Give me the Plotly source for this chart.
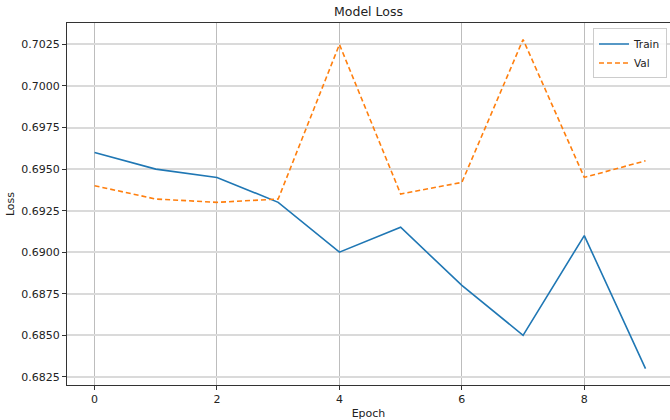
import plotly.graph_objects as go

epochs = [0, 1, 2, 3, 4, 5, 6, 7, 8, 9]
train_loss = [0.6960, 0.6950, 0.6945, 0.6930, 0.6900, 0.6915, 0.6880, 0.6850, 0.6910, 0.6830]
val_loss = [0.6940, 0.6932, 0.6930, 0.6932, 0.7025, 0.6935, 0.6942, 0.7028, 0.6945, 0.6955]

FONT = "DejaVu Sans"

fig = go.Figure()
fig.add_trace(go.Scatter(x=epochs, y=train_loss, mode="lines", name="Train",
                         line=dict(color="#1f77b4", width=1.6)))
fig.add_trace(go.Scatter(x=epochs, y=val_loss, mode="lines", name="Val",
                         line=dict(color="#ff7f0e", width=1.6, dash="5px,3px")))

fig.update_layout(
    width=670, height=420,
    margin=dict(l=67, r=0, t=23, b=35, autoexpand=False),
    paper_bgcolor="white", plot_bgcolor="white",
    font=dict(family=FONT, size=11, color="#222222"),
    title=dict(text="Model Loss", x=0.5, xref="paper", xanchor="center",
               y=1 - 12 / 420, yanchor="middle", font=dict(size=12.5, color="#222222")),
    showlegend=True,
    legend=dict(x=0.995, y=0.985, xanchor="right", yanchor="top",
                bgcolor="rgba(255,255,255,0.85)", bordercolor="#cccccc", borderwidth=1,
                font=dict(size=10.5), itemwidth=30, tracegroupgap=0),
    xaxis=dict(
        range=[-0.45, 9.40], dtick=2, tick0=0,
        showline=True, linecolor="#333333", linewidth=1, mirror=True,
        ticks="outside", ticklen=4, tickcolor="#333333", tickwidth=1,
        showgrid=True, gridcolor="#bdbdbd", gridwidth=1,
        zeroline=False, automargin=False,
        title=dict(text="Epoch", standoff=4, font=dict(size=11)),
    ),
    yaxis=dict(
        range=[0.68201, 0.70379], dtick=0.0025, tick0=0.6825, tickformat=".4f",
        showline=True, linecolor="#333333", linewidth=1, mirror=False,
        ticks="outside", ticklen=4, tickcolor="#333333", tickwidth=1,
        showgrid=True, gridcolor="#dadada", gridwidth=1.5,
        zeroline=False, automargin=False,
        title=dict(text="Loss", standoff=4, font=dict(size=11)),
    ),
)

fig.write_html(
    "out.html",
    config={"displayModeBar": False},
    post_script="document.body.style.margin='0';document.body.style.padding='0';document.body.style.overflow='hidden';",
)
